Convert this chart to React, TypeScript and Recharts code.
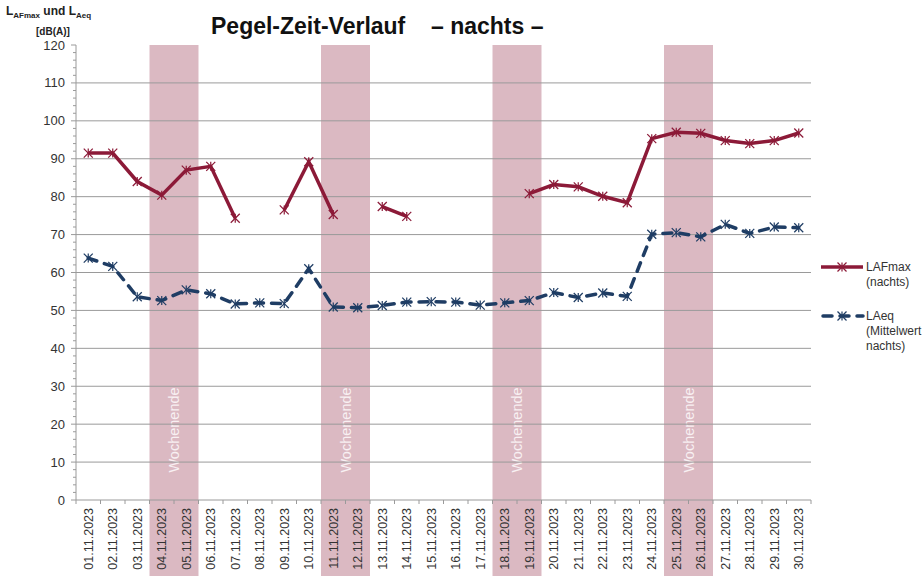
import {
  LineChart,
  Line,
  XAxis,
  YAxis,
  ReferenceArea,
  ReferenceLine,
  Legend,
} from "recharts"

const days = [
  "01.11.2023", "02.11.2023", "03.11.2023", "04.11.2023", "05.11.2023",
  "06.11.2023", "07.11.2023", "08.11.2023", "09.11.2023", "10.11.2023",
  "11.11.2023", "12.11.2023", "13.11.2023", "14.11.2023", "15.11.2023",
  "16.11.2023", "17.11.2023", "18.11.2023", "19.11.2023", "20.11.2023",
  "21.11.2023", "22.11.2023", "23.11.2023", "24.11.2023", "25.11.2023",
  "26.11.2023", "27.11.2023", "28.11.2023", "29.11.2023", "30.11.2023",
]

const lafmax = [
  91.5, 91.5, 84, 80.4, 87, 88, 74.3, null, 76.5, 89.2,
  75.3, null, 77.4, 74.8, null, null, null, null, 80.8, 83.2,
  82.6, 80.1, 78.4, 95.3, 97, 96.7, 94.8, 94, 94.8, 96.8,
]

const laeq = [
  63.8, 61.6, 53.6, 52.6, 55.4, 54.4, 51.7, 52, 51.8, 61,
  50.9, 50.7, 51.3, 52.2, 52.3, 52.2, 51.4, 52, 52.6, 54.7,
  53.4, 54.6, 53.7, 70.1, 70.5, 69.4, 72.7, 70.3, 72, 71.8,
]

const weekends = [
  ["04.11.2023", "05.11.2023"],
  ["11.11.2023", "12.11.2023"],
  ["18.11.2023", "19.11.2023"],
  ["25.11.2023", "26.11.2023"],
]

const gridValues = [10, 20, 30, 40, 50, 60, 70, 80, 90, 100, 110]
const yTicks = Array.from({ length: 61 }, (_, i) => i * 2)

const data = days.map((day, i) => ({ day, lafmax: lafmax[i], laeq: laeq[i] }))

const W = 924
const H = 576
const M = { top: 45, right: 113, left: 0, bottom: 0 }
const Y_W = 76
const X_H = 76
const half = (W - M.right - Y_W) / days.length / 2

const FONT = "'Liberation Sans', Arial, sans-serif"
const RED = "#8c1a38"
const BLUE = "#1f3d64"
const AXIS = "#9a9a9a"

function Star({ cx, cy, color }: any) {
  if (cx == null || cy == null) return null
  const r = 4.5
  return (
    <g stroke={color} strokeWidth={1.2}>
      <line x1={cx - r} y1={cy - r} x2={cx + r} y2={cy + r} />
      <line x1={cx - r} y1={cy + r} x2={cx + r} y2={cy - r} />
      <line x1={cx} y1={cy - r} x2={cx} y2={cy + r} />
    </g>
  )
}

function DayTick({ x, y, payload, index }: any) {
  return (
    <g>
      {index === 0 && <line x1={x - half} x2={x - half} y1={y - 8} y2={y - 4} stroke={AXIS} />}
      <line x1={x + half} x2={x + half} y1={y - 8} y2={y - 4} stroke={AXIS} />
      <text
        transform={`translate(${x + 4.5},${y}) rotate(-90)`}
        textAnchor="end"
        fontSize={12.5}
        fontFamily={FONT}
        fill="#333"
      >
        {payload.value}
      </text>
    </g>
  )
}

function ValueTick({ x, y, payload }: any) {
  const v = payload.value
  const major = v % 10 === 0
  const ax = x + 9
  return (
    <g>
      <line x1={ax - (major ? 5 : 3)} x2={ax} y1={y} y2={y} stroke={AXIS} />
      {major && (
        <text x={x - 2} y={y} dy={4.5} textAnchor="end" fontSize={13} fontFamily={FONT} fill="#333">
          {v}
        </text>
      )}
    </g>
  )
}

// the area runs centre to centre, widen it to the full category bands
function WeekendBand({ x, y, width, height }: any) {
  return (
    <g>
      <rect x={x - half} y={y} width={width + 2 * half} height={height + X_H} fill="#a0485f" fillOpacity={0.38} />
      <text
        transform={`translate(${x + width / 2 + 5},${y + height - 70}) rotate(-90)`}
        textAnchor="middle"
        fontSize={14.5}
        fontFamily={FONT}
        fill="#f8f0f2"
      >
        Wochenende
      </text>
    </g>
  )
}

function LegendBox() {
  return (
    <svg width={110} height={100} style={{ overflow: "visible" }}>
      <g fontFamily={FONT} fontSize={12} fill="#333">
        <line x1={0} x2={42} y1={12} y2={12} stroke={RED} strokeWidth={3.5} />
        <Star cx={21} cy={12} color={RED} />
        <text x={45} y={16}>LAFmax</text>
        <text x={45} y={31}>(nachts)</text>
        <line x1={2} x2={42} y1={61} y2={61} stroke={BLUE} strokeWidth={3.5} strokeDasharray="9 8" strokeLinecap="round" />
        <Star cx={21} cy={61} color={BLUE} />
        <text x={45} y={65}>LAeq</text>
        <text x={45} y={80}>(Mittelwert</text>
        <text x={45} y={95}>nachts)</text>
      </g>
    </svg>
  )
}

export default function App() {
  return (
    <div style={{ position: "absolute", left: 0, top: 0, width: W, height: H, background: "#fff" }}>
      <LineChart width={W} height={H} data={data} margin={M}>
        {weekends.map(([a, b]) => (
          <ReferenceArea key={a} x1={a} x2={b} yAxisId="v" shape={<WeekendBand />} ifOverflow="visible" />
        ))}
        {gridValues.map((v) => (
          <ReferenceLine key={v} y={v} yAxisId="v" stroke={AXIS} strokeWidth={1} />
        ))}
        <XAxis
          dataKey="day"
          height={X_H}
          interval={0}
          padding={{ left: half, right: half }}
          tickSize={4}
          tickMargin={4}
          tickLine={false}
          stroke={AXIS}
          tick={<DayTick />}
        />
        <YAxis
          yAxisId="v"
          width={Y_W}
          domain={[0, 120]}
          ticks={yTicks}
          interval={0}
          tickSize={5}
          tickMargin={4}
          tickLine={false}
          stroke={AXIS}
          tick={<ValueTick />}
        />
        <Legend
          layout="horizontal"
          verticalAlign="middle"
          align="center"
          content={<LegendBox />}
          wrapperStyle={{ left: 821, top: 255, width: 110, height: 100 }}
        />
        <Line
          yAxisId="v"
          dataKey="lafmax"
          name="LAFmax (nachts)"
          stroke={RED}
          strokeWidth={3.5}
          dot={<Star color={RED} />}
          activeDot={false}
          connectNulls={false}
          isAnimationActive={false}
        />
        <Line
          yAxisId="v"
          dataKey="laeq"
          name="LAeq (Mittelwert nachts)"
          stroke={BLUE}
          strokeWidth={3.5}
          strokeDasharray="9 8"
          strokeLinecap="round"
          dot={<Star color={BLUE} />}
          activeDot={false}
          isAnimationActive={false}
        />
      </LineChart>
      <div style={{ position: "absolute", left: 6, top: 4, fontFamily: FONT, fontWeight: "bold", fontSize: 12, color: "#222", lineHeight: "14px" }}>
        L<sub style={{ fontSize: 8 }}>AFmax</sub> und L<sub style={{ fontSize: 8 }}>Aeq</sub>
      </div>
      <div style={{ position: "absolute", left: 36, top: 26, fontFamily: FONT, fontWeight: "bold", fontSize: 10, color: "#222" }}>
        [dB(A)]
      </div>
      <div style={{ position: "absolute", left: 211, top: 13, fontFamily: FONT, fontWeight: "bold", fontSize: 23, color: "#111", whiteSpace: "pre" }}>
        Pegel-Zeit-Verlauf
      </div>
      <div style={{ position: "absolute", left: 431, top: 13, fontFamily: FONT, fontWeight: "bold", fontSize: 23, color: "#111", whiteSpace: "pre" }}>
        – nachts –
      </div>
    </div>
  )
}
